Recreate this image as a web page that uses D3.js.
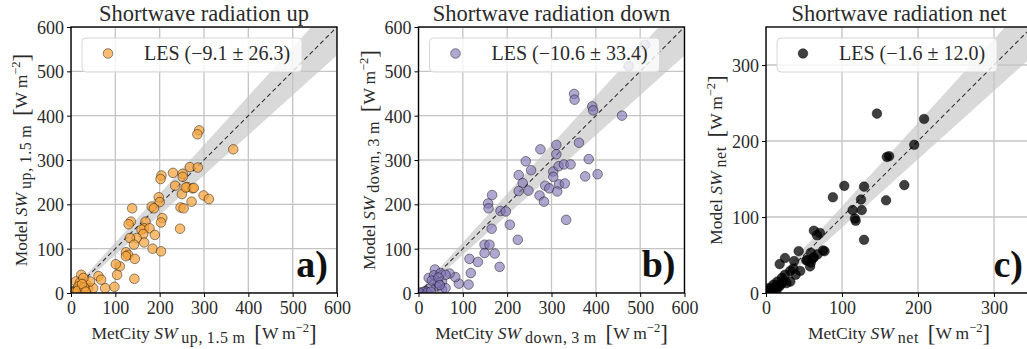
<!DOCTYPE html>
<html>
<head>
<meta charset="utf-8">
<script src="https://cdn.jsdelivr.net/npm/d3@7"></script>
<style>
  html, body { margin: 0; padding: 0; background: #fff; }
  svg { display: block; font-family: "Liberation Serif", "DejaVu Serif", serif; }
</style>
</head>
<body>
<div id="plot"></div>
<script>
// Shortwave radiation up (MetCity 1.5 m vs LES)
const upObs = [289, 285, 366, 230, 252, 268, 286, 204, 202, 235, 252, 262, 274, 272, 299, 311, 250, 247, 254, 246,
  198, 200, 182, 187, 206, 203, 138, 135, 130, 168, 165, 159, 177, 189, 163, 165, 148, 133, 142, 184,
  203, 124, 129, 124, 144, 110, 101, 104, 143, 98, 77, 62, 68, 23, 11, 20, 35, 39, 24, 32,
  13, 5, 50, 43, 28, 17, 2, 8, 15, 30, 25, 33, 259, 277];
const upMod = [367, 358, 324, 271, 269, 284, 283, 265, 257, 242, 262, 239, 236, 206, 220, 212, 223, 193, 191, 145,
  216, 205, 195, 191, 169, 159, 191, 161, 155, 161, 146, 143, 146, 131, 133, 114, 124, 124, 109, 100,
  94, 92, 86, 83, 77, 60, 65, 41, 32, 14, 11, 38, 30, 41, 26, 23, 19, 11, 8, 4,
  8, 4, 11, 26, 34, 15, 2, 1, 5, 12, 20, 3, 238, 237];

// Shortwave radiation down (MetCity 3 m vs LES)
const downObs = [351, 352, 392, 394, 459, 474, 511, 362, 311, 311, 275, 242, 254, 304, 316, 328, 343, 384, 376, 404,
  226, 235, 226, 248, 273, 283, 286, 295, 317, 313, 330, 304, 333,
  166, 157, 158, 185, 197, 165, 206, 224, 149, 160, 149, 172, 183, 115, 118, 113, 134, 91, 83, 70,
  37, 23, 35, 50, 53, 40, 53, 61, 27, 16, 5, 10, 44, 61, 2, 30, 45, 48, 20, 28];
const downMod = [449, 436, 421, 412, 400, 512, 560, 339, 334, 313, 324, 297, 277, 274, 286, 290, 290, 302, 263, 268,
  266, 248, 230, 231, 220, 206, 242, 236, 245, 229, 247, 262, 165,
  221, 202, 191, 185, 184, 145, 154, 120, 109, 109, 90, 89, 59, 77, 45, 19, 70, 21, 36, 44,
  53, 34, 40, 45, 26, 15, 8, 11, 11, 4, 0, 2, 23, 41, 1, 28, 35, 18, 1, 3];

// Shortwave radiation net
const netObs = [146, 208, 195, 159, 162, 103, 88, 129, 182, 158, 125, 114, 126, 118, 117, 129, 63, 67, 77, 68,
  63, 59, 43, 59, 54, 25, 18, 37, 36, 39, 25, 32, 23, 15, 10, 5, 2, 12, 18, 7,
  27, 14, 21, 32, 45, 8, 11, 16, 20, 4, 6, 71, 75, 53, 62, 58];
const netMod = [236, 229, 195, 179, 180, 141, 126, 140, 142, 122, 123, 109, 109, 95, 98, 70, 82, 76, 55, 51,
  47, 53, 55, 40, 43, 46, 38, 42, 32, 24, 24, 15, 15, 15, 11, 7, 2, 4, 9, 2,
  13, 4, 20, 29, 29, 5, 8, 10, 12, 3, 6, 79, 56, 43, 46, 35];

const titles = ["Shortwave radiation up", "Shortwave radiation down", "Shortwave radiation net"];
const legendLabels = ["LES (\u22129.1 \u00b1 26.3)", "LES (\u221210.6 \u00b1 33.4)", "LES (\u22121.6 \u00b1 12.0)"];
const subscripts = ["up,\u20091.5\u2009m", "down,\u20093\u2009m", "net"];
const letters = ["a)", "b)", "c)"];
const ticksFull = [0, 100, 200, 300, 400, 500, 600];
const ticksNet = [0, 100, 200, 300];

const width = 1027;
const height = 349;
const size = 266;
const plotTop = 27;
const lefts = [71, 418.5, 766];

const panels = [
  { obs: upObs, mod: upMod, max: 600, ticks: ticksFull, fill: "#f5a43c", op: 0.72 },
  { obs: downObs, mod: downMod, max: 600, ticks: ticksFull, fill: "#7f73b5", op: 0.62 },
  { obs: netObs, mod: netMod, max: 350, ticks: ticksNet, fill: "#000000", op: 0.75 }
];

const textColor = "#2a2a2a";

const svg = d3.select("#plot").append("svg")
  .attr("width", width)
  .attr("height", height);

// label of the form  prefix SW_sub [W m^-2]
function mathLabel(t, prefix, sub) {
  t.append("tspan").text(prefix + " ");
  t.append("tspan").attr("font-style", "italic").text("SW");
  t.append("tspan").attr("font-size", "16px").attr("letter-spacing", "0.6px")
    .attr("dy", 4).text("\u2009" + sub);
  t.append("tspan").attr("dy", -4).text("\u2002");
  t.append("tspan").attr("font-size", "23px").attr("dy", 2).text("[");
  t.append("tspan").attr("dy", -2).text("W\u2009m");
  t.append("tspan").attr("font-size", "12.5px").attr("dy", -7).text("\u22122");
  t.append("tspan").attr("font-size", "23px").attr("dy", 9).text("]");
}

panels.forEach((p, i) => {
  const x0 = lefts[i];
  const g = svg.append("g").attr("transform", `translate(${x0},${plotTop})`);

  const x = d3.scaleLinear().domain([0, p.max]).range([0, size]);
  const y = d3.scaleLinear().domain([0, p.max]).range([size, 0]);

  const clipId = "clip" + i;
  g.append("clipPath").attr("id", clipId)
    .append("rect").attr("width", size).attr("height", size);

  const inner = g.append("g").attr("clip-path", `url(#${clipId})`);

  // shaded agreement band around 1:1
  const far = p.max * 1.5;
  inner.append("path")
    .attr("d", d3.line().x(d => x(d[0])).y(d => y(d[1]))(
      [[0, 4], [far, far * 1.1 + 4], [far, far * 0.9 - 4], [0, -4]]))
    .attr("fill", "#d9d9d9");

  // grid
  inner.selectAll(".gx").data(p.ticks).enter().append("line")
    .attr("x1", d => x(d)).attr("x2", d => x(d))
    .attr("y1", 0).attr("y2", size)
    .attr("stroke", "#c4c4c4").attr("stroke-width", 1.3);
  inner.selectAll(".gy").data(p.ticks).enter().append("line")
    .attr("y1", d => y(d)).attr("y2", d => y(d))
    .attr("x1", 0).attr("x2", size)
    .attr("stroke", "#c4c4c4").attr("stroke-width", 1.3);

  // 1:1 line
  inner.append("line")
    .attr("x1", x(0)).attr("y1", y(0))
    .attr("x2", x(far)).attr("y2", y(far))
    .attr("stroke", "#333").attr("stroke-width", 1.1)
    .attr("stroke-dasharray", "4.5,3");

  // points
  inner.selectAll("circle").data(p.obs.map((o, k) => [o, p.mod[k]])).enter()
    .append("circle")
    .attr("cx", d => x(d[0]))
    .attr("cy", d => y(d[1]))
    .attr("r", 4.8)
    .attr("fill", p.fill)
    .attr("fill-opacity", p.op)
    .attr("stroke", "#000")
    .attr("stroke-opacity", 0.55)
    .attr("stroke-width", 0.8);

  // axes
  const ax = g.append("g").attr("transform", `translate(0,${size})`)
    .call(d3.axisBottom(x).tickValues(p.ticks).tickSize(4).tickPadding(3));
  const ay = g.append("g")
    .call(d3.axisLeft(y).tickValues(p.ticks).tickSize(4).tickPadding(3));
  [ax, ay].forEach(a => {
    a.select(".domain").remove();
    a.selectAll("text").attr("font-size", "18px").attr("fill", textColor)
      .attr("font-family", "Liberation Serif, serif");
    a.selectAll("line").attr("stroke", "#000").attr("stroke-width", 1);
  });
  ax.selectAll("text").attr("dy", "0.78em");
  ay.selectAll("text").attr("dy", "0.36em");

  // frame
  g.append("rect")
    .attr("width", size).attr("height", size)
    .attr("fill", "none").attr("stroke", "#000").attr("stroke-width", 1.4);

  // title
  g.append("text")
    .attr("x", size / 2).attr("y", -6)
    .attr("text-anchor", "middle")
    .attr("font-size", "22.5px").attr("fill", textColor)
    .text(titles[i]);

  // legend
  const lg = g.append("g").attr("transform", "translate(11,11)");
  const box = lg.append("rect")
    .attr("height", 34).attr("rx", 4)
    .attr("fill", "#fff").attr("fill-opacity", 0.8)
    .attr("stroke", "#d6d6d6").attr("stroke-width", 1);
  lg.append("circle")
    .attr("cx", 26).attr("cy", 15.5).attr("r", 4.8)
    .attr("fill", p.fill).attr("fill-opacity", p.op)
    .attr("stroke", "#000").attr("stroke-opacity", 0.55).attr("stroke-width", 0.8);
  const lt = lg.append("text")
    .attr("x", 62).attr("y", 22)
    .attr("font-size", "20px").attr("fill", textColor)
    .text(legendLabels[i]);
  box.attr("width", 62 + lt.node().getComputedTextLength() + 12);

  // panel letter
  g.append("text")
    .attr("x", size - 9).attr("y", size - 16)
    .attr("text-anchor", "end")
    .attr("font-size", "38px").attr("font-weight", "bold").attr("fill", "#111")
    .text(letters[i]);

  // x label
  const xl = g.append("text")
    .attr("x", size / 2).attr("y", size + 46)
    .attr("text-anchor", "middle")
    .attr("font-size", "17.5px").attr("fill", textColor);
  mathLabel(xl, "MetCity", subscripts[i]);

  // y label
  const yl = g.append("text")
    .attr("transform", `translate(-44,${size / 2}) rotate(-90)`)
    .attr("text-anchor", "middle")
    .attr("font-size", "17.5px").attr("fill", textColor);
  mathLabel(yl, "Model", subscripts[i]);
});
</script>
</body>
</html>
